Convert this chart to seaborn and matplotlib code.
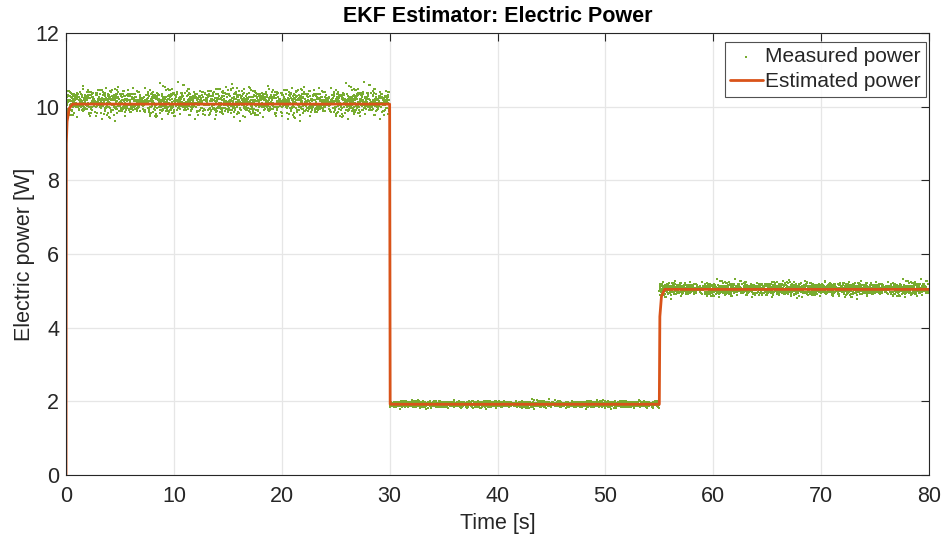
import numpy as np
import pandas as pd
import matplotlib.pyplot as plt
import seaborn as sns

# step segments of the measured signal
seg_start = [0, 30, 55]
seg_end = [30, 55, 80]
seg_level = [10.12, 1.92, 5.05]
seg_spread = [0.18, 0.045, 0.09]

# hand-typed noise offsets (unit scale), cycled over the samples
noise_a = [0.3, -1.2, 0.8, -0.4, 1.5, -0.1, 0.6, -1.7, 0.2, 1.1, -0.8, 0.0, 2.1, -0.5, 0.9, -1.3,
           0.4, -0.2, 1.3, -0.9, 0.1, -2.2, 0.7, 0.5, -0.6, 1.8, -1.0, 0.2, -0.3, 1.0, -0.7]
noise_b = [-0.4, 0.9, -1.5, 0.3, 0.1, -0.8, 1.6, -0.2, 0.7, -1.1, 0.4, 2.4, -0.6, 0.0, -1.9, 1.2,
           -0.3, 0.5, -0.7, 1.0, -0.1, 0.8, -1.4, 0.2, 0.6, -0.9, 1.4, -0.5, -2.0, 0.3, 1.1, -0.2,
           0.9, -1.2, 0.1, 0.6, -0.6]

# estimated power (EKF output) breakpoints
est_time = [0, 0.03, 0.1, 0.3, 0.6, 30.0, 30.05, 55.0, 55.05, 55.2, 55.5, 80]
est_power = [0, 9.0, 9.6, 9.95, 10.07, 10.07, 1.92, 1.92, 4.3, 4.85, 5.04, 5.04]

# build measured samples
dt = 0.015
t = np.arange(0, 80 + dt / 2, dt)
meas = np.zeros_like(t)
for i in range(len(t)):
    for s0, s1, lv, sp in zip(seg_start, seg_end, seg_level, seg_spread):
        if s0 <= t[i] < s1 or (t[i] >= 80 and s1 == 80):
            off = (noise_a[i % len(noise_a)] + noise_b[(i * 7) % len(noise_b)]) / 1.45
            meas[i] = lv + sp * off
df_meas = pd.DataFrame({'time': t, 'power': meas})
df_est = pd.DataFrame({'time': est_time, 'power': est_power})

sns.set_theme(style="whitegrid")
plt.rcParams['font.family'] = ['Liberation Sans', 'DejaVu Sans']

fig, ax = plt.subplots(figsize=(9.42, 5.41), dpi=100)
fig.subplots_adjust(left=66 / 942, right=929 / 942, bottom=1 - 475 / 541, top=1 - 33 / 541)

sns.scatterplot(data=df_meas, x='time', y='power', ax=ax, color='#77AC30', s=3, linewidth=0,
                marker='s', label='Measured power')
sns.lineplot(data=df_est, x='time', y='power', ax=ax, color='#D95319', linewidth=2,
             label='Estimated power')

ax.set_xlim(0, 80)
ax.set_ylim(0, 12)
ax.set_xticks(range(0, 81, 10))
ax.set_yticks(range(0, 13, 2))
ax.set_xlabel('Time [s]', fontsize=15.5, color='#262626', labelpad=4)
ax.set_ylabel('Electric power [W]', fontsize=15.5, color='#262626', labelpad=0)
ax.set_title('EKF Estimator: Electric Power', fontsize=15.5, fontweight='bold', color='black', pad=8)
ax.tick_params(axis='both', labelsize=15.5, colors='#262626', direction='in', length=6,
               width=0.8, top=True, right=True)
ax.tick_params(axis='x', pad=8)
ax.tick_params(axis='y', pad=5)
ax.grid(True, color='#e6e6e6', linewidth=0.9)
ax.set_facecolor('white')
for sp in ax.spines.values():
    sp.set_color('#262626')
    sp.set_linewidth(0.8)

leg = ax.legend(loc='upper right', bbox_to_anchor=(926 / 942, 1 - 42 / 541),
                bbox_transform=fig.transFigure, borderaxespad=0,
                fontsize=15, frameon=True, fancybox=False, borderpad=0.25,
                handlelength=1.6, handletextpad=0.1, labelspacing=0.3, markerscale=1.0)
leg.get_frame().set_edgecolor('#262626')
leg.get_frame().set_linewidth(0.8)

plt.savefig('out.png', dpi=100)
